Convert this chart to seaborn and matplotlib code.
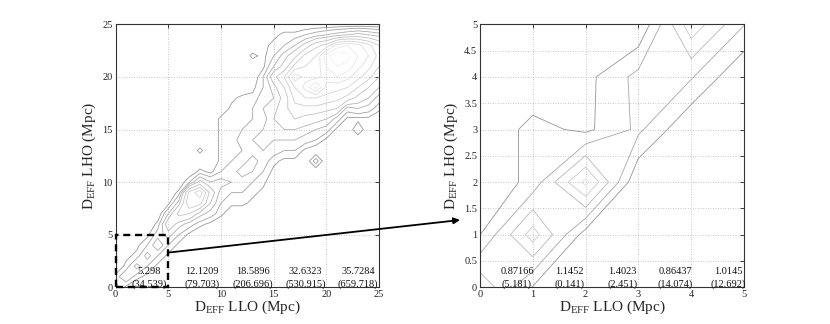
import numpy as np
import matplotlib
matplotlib.use("Agg")
import matplotlib.pyplot as plt
import seaborn as sns
from matplotlib.patches import Rectangle, ConnectionPatch
from matplotlib.ticker import FormatStrFormatter

# Binned event counts on a 1 Mpc grid, D_EFF LLO (columns, 0..25) vs
# D_EFF LHO (rows, written top row = 25 Mpc down to 0 Mpc).
# One base-36 character per cell (0-9, a=10 ... z=35).
full_rows = [
    "00000000000000000000000000",  # 25
    "00000000000000012234567876",  # 24
    "0000000000000012358cekmkhd",  # 23
    "000000000000021369egosqmjf",  # 22
    "00000000000000158eghmpokhd",  # 21
    "0000000000000039dliikmkhea",  # 20
    "0000000000000136agkqihgda7",  # 19
    "00000000000122458eggfec974",  # 18
    "00000000000223569cccba4542",  # 17
    "00000000002223478a98741110",  # 16
    "00000000002234567765410300",  # 15
    "00000000002245655543100000",  # 14
    "00000000202334543310000000",  # 13
    "00000000002346421104000000",  # 12
    "00000000213465310000000000",  # 11
    "00000003856543200000000000",  # 10
    "0000002ei94332100000000000",  # 9
    "0000016ge73221000000000000",  # 8
    "000005ba642000000000000000",  # 7
    "00002964210000000000000000",  # 6
    "00014631000000000000000000",  # 5
    "00137310000000000000000000",  # 4
    "01263100000000000000000000",  # 3
    "02631000000000000000000000",  # 2
    "25210000000000000000000000",  # 1
    "41000000000000000000000000",  # 0
]
full_levels = [1.5, 3, 5, 7, 10, 13, 16, 19, 22, 25]

# zoomed 0-5 Mpc block (rows top = 5 Mpc down to 0 Mpc)
zoom_rows = [
    [0.0, 0.0, 0.0, 0.0, 4.7, 2.05],
    [0.0, 0.0, 0.667, 2.33, 2.1, 0.0],
    [0.0, 1.37, 0.75, 2.22, 0.0, 0.0],
    [0.0, 1.37, 5.3, 0.0, 0.0, 0.0],
    [0.98, 4.5, 0.5, 0.0, 0.0, 0.0],
    [3.8, 0.93, 0.0, 0.0, 0.0, 0.0],
]
zoom_levels = [1, 2, 3, 4, 5]

# mean (variance) of the LHO-LLO difference in each slice along the x axis
full_mean = [5.298, 12.1209, 18.5896, 32.6323, 35.7284]
full_var = [34.539, 79.703, 206.696, 530.915, 659.718]
full_pos = [3.2, 8.2, 13, 18, 23]
zoom_mean = [0.87166, 1.1452, 1.4023, 0.86437, 1.0145]
zoom_var = [5.181, 0.141, 2.451, 14.074, 12.692]
zoom_pos = [0.7, 1.7, 2.7, 3.7, 4.7]

full_z = np.array([[int(c, 36) for c in r] for r in full_rows[::-1]], dtype=float)
zoom_z = np.array(zoom_rows[::-1])

sns.set_style("white")
plt.rcParams['font.family'] = ['Liberation Serif', 'DejaVu Serif']
plt.rcParams['mathtext.fontset'] = 'custom'
plt.rcParams['mathtext.rm'] = 'Liberation Serif'
plt.rcParams['mathtext.it'] = 'Liberation Serif:italic'

tick_size = 7.5
label_size = 11
stat_size = 7.5

fig = plt.figure(figsize=(8.3, 3.24), dpi=100)
ax1 = fig.add_axes([115.6 / 830, 36.7 / 324, 263.5 / 830, 263 / 324])
ax2 = fig.add_axes([480 / 830, 36.7 / 324, 264 / 830, 263 / 324])


def style_axes(ax, ticks, lim):
    ax.set_xlim(*lim)
    ax.set_ylim(*lim)
    ax.set_xticks(ticks[0])
    ax.set_yticks(ticks[1])
    ax.xaxis.set_major_formatter(FormatStrFormatter('%g'))
    ax.yaxis.set_major_formatter(FormatStrFormatter('%g'))
    ax.grid(True, linestyle=(0, (1, 2)), color='#b5b5b5', linewidth=0.6)
    ax.set_axisbelow(True)
    ax.tick_params(direction='in', top=True, right=True, length=3, width=0.6,
                   labelsize=tick_size, pad=2, colors='#222222')
    for s in ax.spines.values():
        s.set_linewidth(0.8)
        s.set_color('#333333')
    ax.set_xlabel(r"$\mathrm{D}_{\mathrm{EFF}}$ LLO (Mpc)", fontsize=label_size, labelpad=0)
    ax.set_ylabel(r"$\mathrm{D}_{\mathrm{EFF}}$ LHO (Mpc)", fontsize=label_size, labelpad=3)


# left: full range
gx = np.arange(full_z.shape[1])
gy = np.arange(full_z.shape[0])
pal1 = sns.blend_palette(["#9a9a9a", "#f2f2f2"], n_colors=len(full_levels))
ax1.contour(gx, gy, full_z, levels=full_levels, colors=pal1, linewidths=0.6)
style_axes(ax1, (np.arange(0, 26, 5), np.arange(0, 26, 5)), (0, 25))

# right: zoom of 0-5 Mpc
zx = np.arange(zoom_z.shape[1])
zy = np.arange(zoom_z.shape[0])
pal2 = sns.blend_palette(["#959595", "#dddddd"], n_colors=len(zoom_levels))
ax2.contour(zx, zy, zoom_z, levels=zoom_levels, colors=pal2, linewidths=0.6)
style_axes(ax2, (np.arange(0, 6, 1), np.arange(0, 5.01, 0.5)), (0, 5))

for ax, pos, mean, var in [(ax1, full_pos, full_mean, full_var),
                           (ax2, zoom_pos, zoom_mean, zoom_var)]:
    tr = ax.get_xaxis_transform()
    for p, m, v in zip(pos, mean, var):
        ax.text(p, 0.059, f"{m:g}", transform=tr, ha='center', va='center',
                fontsize=stat_size, color='#111111')
        ax.text(p, 0.012, f"({v:g})", transform=tr, ha='center', va='center',
                fontsize=stat_size, color='#111111')

# zoom box and arrow
ax1.add_patch(Rectangle((0, 0), 5, 5, fill=False, ec='black', lw=1.7,
                        ls=(0, (3, 2)), clip_on=False, zorder=6))
arrow = ConnectionPatch(xyA=(5, 3.3), coordsA=ax1.transData,
                        xyB=(460 / 830, 1 - 220 / 324), coordsB=fig.transFigure,
                        arrowstyle='-|>', lw=1.3, color='black', mutation_scale=9,
                        zorder=7)
fig.add_artist(arrow)

fig.savefig("out.png", dpi=100)
